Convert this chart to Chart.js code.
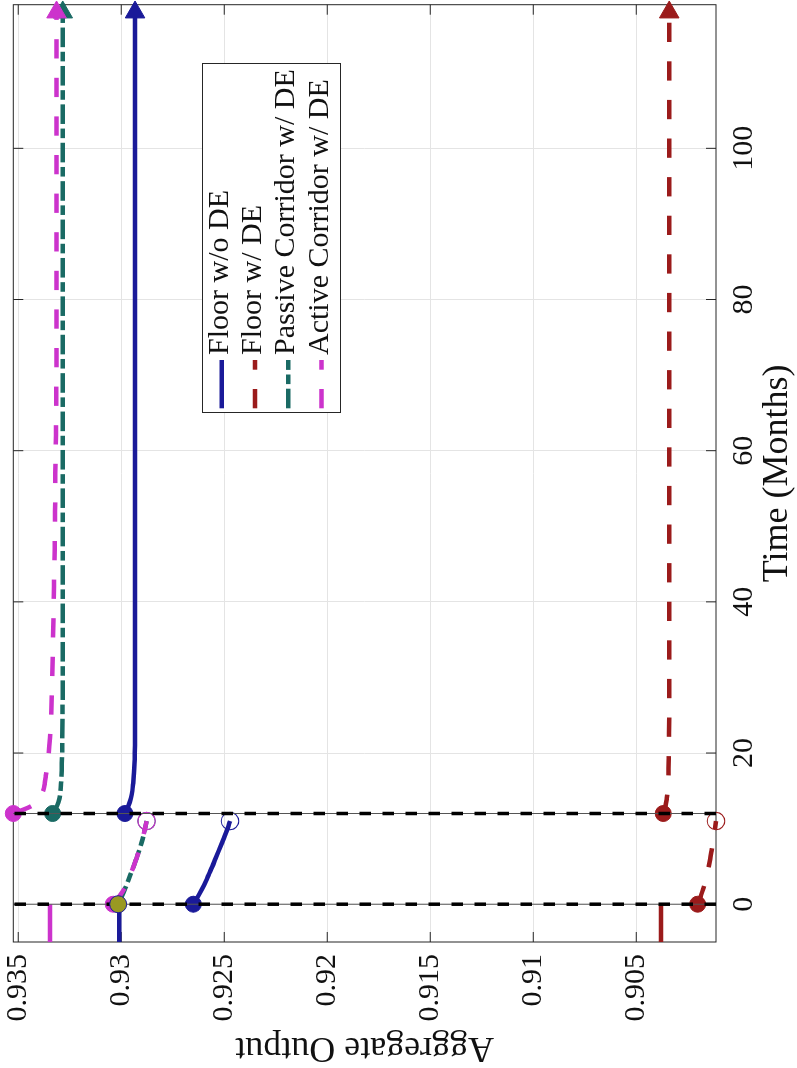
<!DOCTYPE html>
<html><head><meta charset="utf-8">
<script src="https://cdn.jsdelivr.net/npm/chart.js@4.4.1/dist/chart.umd.min.js"></script>
<style>
html,body{margin:0;padding:0;background:#fff;overflow:hidden;width:797px;height:1068px;}
#wrap{position:absolute;left:0;top:0;width:1068px;height:797px;transform-origin:0 0;transform:translate(0,1068px) rotate(-90deg);}
canvas{display:block;}
</style></head><body>
<div id="wrap"><canvas id="c" width="1068" height="797"></canvas></div>
<script>
// ---------------- DATA ----------------
const SERIES_NAMES = ['Floor w/o DE', 'Floor w/ DE', 'Passive Corridor w/ DE', 'Active Corridor w/ DE'];
const X_TITLE = 'Time (Months)';
const Y_TITLE = 'Aggregate Output';

const PRE_MONTHS = [-5, 0];
const TRANS_MONTHS = [0, 1, 2, 3, 4, 5, 6, 7, 8, 9, 10, 11];
const POST_MONTHS = [12, 13, 14, 15, 16, 17, 18, 20, 22, 25, 30, 35, 42, 47, 52, 57, 62, 70, 80, 90, 100, 110, 118];
const SHOCK_MONTHS = [0, 12];

const X_MIN = -5, X_MAX = 119;
const Y_MIN = 0.90113, Y_MAX = 0.93524;
const X_TICKS = [0, 20, 40, 60, 80, 100];
const X_TICK_LABELS = ['0', '20', '40', '60', '80', '100'];
const Y_TICKS = [0.905, 0.91, 0.915, 0.92, 0.925, 0.93, 0.935];
const Y_TICK_LABELS = ['0.905', '0.91', '0.915', '0.92', '0.925', '0.93', '0.935'];

// Floor w/o DE
const floorNoDE_pre = [0.93010, 0.93010];
const floorNoDE_trans = [0.92650, 0.92628, 0.92608, 0.92590, 0.92574, 0.92558, 0.92543, 0.92528, 0.92513, 0.92498, 0.92484, 0.92472];
const floorNoDE_post = [0.92982, 0.92965, 0.92953, 0.92946, 0.92942, 0.92939, 0.92937, 0.92934, 0.92933, 0.92933, 0.92933, 0.92933, 0.92933, 0.92933, 0.92933, 0.92933, 0.92933, 0.92933, 0.92933, 0.92933, 0.92933, 0.92933, 0.92933];
// Floor w/ DE
const floorDE_pre = [0.90380, 0.90380];
const floorDE_trans = [0.90202, 0.90188, 0.90175, 0.90165, 0.90156, 0.90148, 0.90141, 0.90135, 0.90129, 0.90123, 0.90118, 0.90113];
const floorDE_post = [0.90369, 0.90358, 0.90352, 0.90348, 0.90346, 0.90344, 0.90343, 0.90342, 0.90341, 0.90340, 0.90340, 0.90340, 0.90340, 0.90340, 0.90340, 0.90340, 0.90340, 0.90340, 0.90340, 0.90340, 0.90340, 0.90340, 0.90340];
// Passive Corridor w/ DE
const passive_trans = [0.93015, 0.92998, 0.92982, 0.92968, 0.92954, 0.92940, 0.92927, 0.92914, 0.92903, 0.92893, 0.92885, 0.92877];
const passive_post = [0.93333, 0.93312, 0.93300, 0.93295, 0.93292, 0.93290, 0.93289, 0.93287, 0.93286, 0.93285, 0.93284, 0.93284, 0.93284, 0.93284, 0.93284, 0.93284, 0.93284, 0.93284, 0.93284, 0.93284, 0.93284, 0.93284, 0.93284];
// Active Corridor w/ DE
const active_pre = [0.93346, 0.93346];
const active_trans = [0.93039, 0.93010, 0.92986, 0.92968, 0.92954, 0.92940, 0.92927, 0.92914, 0.92903, 0.92893, 0.92885, 0.92877];
const active_post = [0.93524, 0.93435, 0.93400, 0.93379, 0.93371, 0.93366, 0.93361, 0.93352, 0.93346, 0.93340, 0.93335, 0.93331, 0.93327, 0.93323, 0.93321, 0.93320, 0.93317, 0.93315, 0.93314, 0.93314, 0.93314, 0.93314, 0.93314];

// ---------------- STYLE ----------------
const FONT = "'Liberation Serif', 'Times New Roman', serif";
const INK = '#262626';
const GRID = '#e4e4e4';
const LW = 4.5;
const TICK_LEN = 10;
const STY = [
  {color: '#1a1a99', dash: []},
  {color: '#9b1b1b', dash: [19.3, 19.3]},
  {color: '#1a6a64', dash: [19.6, 4.6, 9.6, 4.6]},
  {color: '#cc33cc', dash: [19.3, 19.3]}
];
const START_COLOR = '#999922';

function seg(months, values) { return months.map((m, i) => ({x: m, y: values[i]})); }

function lineDs(data, s, order, extra) {
  return Object.assign({
    data, borderColor: s.color, backgroundColor: s.color, borderWidth: LW, borderDash: s.dash,
    fill: false, cubicInterpolationMode: 'monotone', clip: false, order,
    pointRadius: 0
  }, extra || {});
}
function transPts(n, color, showStart) {
  return {
    pointStyle: 'circle',
    pointRadius: Array.from({length: n}, (_, i) => i === 0 ? (showStart ? 8 : 0) : (i === n - 1 ? 8.7 : 0)),
    pointBackgroundColor: Array.from({length: n}, (_, i) => i === n - 1 ? 'rgba(0,0,0,0)' : color),
    pointBorderColor: color,
    pointBorderWidth: Array.from({length: n}, (_, i) => i === n - 1 ? 1.1 : 1)
  };
}
function postPts(n, color) {
  return {
    pointStyle: Array.from({length: n}, (_, i) => i === n - 1 ? 'triangle' : 'circle'),
    pointRadius: Array.from({length: n}, (_, i) => i === 0 ? 8 : (i === n - 1 ? 11.3 : 0)),
    pointRotation: Array.from({length: n}, (_, i) => i === n - 1 ? 90 : 0),
    pointBackgroundColor: color, pointBorderColor: color, pointBorderWidth: 1
  };
}
const solid = s => ({color: s.color, dash: []});

const datasets = [
  // start marker (drawn on top)
  {data: [{x: TRANS_MONTHS[0], y: passive_trans[0]}], showLine: false, order: 0, clip: false,
   pointRadius: 8.5, pointBackgroundColor: START_COLOR, pointBorderColor: STY[0].color, pointBorderWidth: 1},
  // shock reference lines
  ...SHOCK_MONTHS.map(m => ({data: [{x: m, y: Y_MIN}, {x: m, y: Y_MAX}], borderColor: '#000', borderWidth: 3.5,
    borderDash: [11.5, 11.5], pointRadius: 0, order: 1, clip: false, fill: false})),
  ...SHOCK_MONTHS.map(m => ({data: [{x: m, y: Y_MIN}, {x: m, y: Y_MAX}], borderColor: '#555', borderWidth: 1,
    pointRadius: 0, order: 2, clip: false, fill: false})),
  // Active corridor
  lineDs(seg(PRE_MONTHS, active_pre), solid(STY[3]), 3),
  lineDs(seg(TRANS_MONTHS, active_trans), STY[3], 3, transPts(TRANS_MONTHS.length, STY[3].color, true)),
  lineDs(seg(POST_MONTHS, active_post), STY[3], 3, postPts(POST_MONTHS.length, STY[3].color)),
  // Passive corridor
  lineDs(seg(TRANS_MONTHS, passive_trans), STY[2], 4, transPts(TRANS_MONTHS.length, STY[2].color, false)),
  lineDs(seg(POST_MONTHS, passive_post), STY[2], 4, postPts(POST_MONTHS.length, STY[2].color)),
  // Floor w/ DE
  lineDs(seg(PRE_MONTHS, floorDE_pre), solid(STY[1]), 5),
  lineDs(seg(TRANS_MONTHS, floorDE_trans), STY[1], 5, transPts(TRANS_MONTHS.length, STY[1].color, true)),
  lineDs(seg(POST_MONTHS, floorDE_post), STY[1], 5, postPts(POST_MONTHS.length, STY[1].color)),
  // Floor w/o DE
  lineDs(seg(PRE_MONTHS, floorNoDE_pre), solid(STY[0]), 6),
  lineDs(seg(TRANS_MONTHS, floorNoDE_trans), STY[0], 6, transPts(TRANS_MONTHS.length, STY[0].color, true)),
  lineDs(seg(POST_MONTHS, floorNoDE_post), STY[0], 6, postPts(POST_MONTHS.length, STY[0].color))
];

const framePlugin = {
  id: 'frame',
  beforeDatasetsDraw(chart) {
    const {ctx, chartArea: a, scales: {x, y}} = chart;
    ctx.save();
    ctx.strokeStyle = INK; ctx.lineWidth = 1; ctx.setLineDash([]);
    ctx.beginPath();
    X_TICKS.forEach(v => {
      const p = x.getPixelForValue(v);
      ctx.moveTo(p, a.bottom); ctx.lineTo(p, a.bottom - TICK_LEN);
      ctx.moveTo(p, a.top); ctx.lineTo(p, a.top + TICK_LEN);
    });
    Y_TICKS.forEach(v => {
      const p = y.getPixelForValue(v);
      ctx.moveTo(a.left, p); ctx.lineTo(a.left + TICK_LEN, p);
      ctx.moveTo(a.right, p); ctx.lineTo(a.right - TICK_LEN, p);
    });
    ctx.stroke();
    ctx.strokeRect(a.left, a.top, a.right - a.left, a.bottom - a.top);
    ctx.restore();
  }
};

const legendPlugin = {
  id: 'boxLegend',
  afterDraw(chart) {
    const ctx = chart.ctx;
    const b = {x: 655.5, y: 202.5, w: 349, h: 138};
    ctx.save();
    ctx.fillStyle = '#fff'; ctx.fillRect(b.x, b.y, b.w, b.h);
    ctx.strokeStyle = INK; ctx.lineWidth = 1; ctx.setLineDash([]);
    ctx.strokeRect(b.x, b.y, b.w, b.h);
    SERIES_NAMES.forEach((name, i) => {
      const yy = b.y + 19.2 + i * 33.3;
      ctx.strokeStyle = STY[i].color; ctx.lineWidth = LW; ctx.setLineDash(STY[i].dash);
      ctx.beginPath(); ctx.moveTo(b.x + 4.2, yy); ctx.lineTo(b.x + 52.5, yy); ctx.stroke();
      ctx.setLineDash([]);
      ctx.fillStyle = '#111'; ctx.font = '30px ' + FONT; ctx.textBaseline = 'alphabetic'; ctx.textAlign = 'left';
      ctx.fillText(name, b.x + 57.5, yy + 6);
    });
    ctx.restore();
  }
};

new Chart(document.getElementById('c'), {
  type: 'line',
  data: {datasets},
  plugins: [framePlugin, legendPlugin],
  options: {
    responsive: false, animation: false, events: [],
    layout: {padding: {top: 13.3, right: 4.7, left: 0, bottom: 0}, autoPadding: false},
    plugins: {legend: {display: false}, tooltip: {enabled: false}},
    scales: {
      x: {
        type: 'linear', min: X_MIN, max: X_MAX,
        afterBuildTicks: s => { s.ticks = X_TICKS.map(v => ({value: v})); },
        afterFit: s => { s.height = 81; s.paddingLeft = 0; s.paddingRight = 0; },
        ticks: {font: {family: FONT, size: 30}, color: '#111', padding: 10, maxRotation: 0, minRotation: 0, autoSkip: false,
          callback: (v, i) => X_TICK_LABELS[i]},
        grid: {color: GRID, lineWidth: 1, drawTicks: false},
        border: {display: false},
        title: {display: true, text: X_TITLE, font: {family: FONT, size: 36, lineHeight: 1}, color: '#111', padding: {top: 0, bottom: 1.5}}
      },
      y: {
        type: 'linear', min: Y_MIN, max: Y_MAX,
        afterBuildTicks: s => { s.ticks = Y_TICKS.map(v => ({value: v})); },
        afterFit: s => { s.width = 126; s.paddingTop = 0; s.paddingBottom = 0; },
        ticks: {font: {family: FONT, size: 30}, color: '#111', padding: 12, autoSkip: false,
          callback: (v, i) => Y_TICK_LABELS[i]},
        grid: {color: GRID, lineWidth: 1, drawTicks: false},
        border: {display: false},
        title: {display: true, text: Y_TITLE, font: {family: FONT, size: 36, lineHeight: 1}, color: '#111', padding: {top: 2.5, bottom: 0}}
      }
    }
  }
});
</script></body></html>
